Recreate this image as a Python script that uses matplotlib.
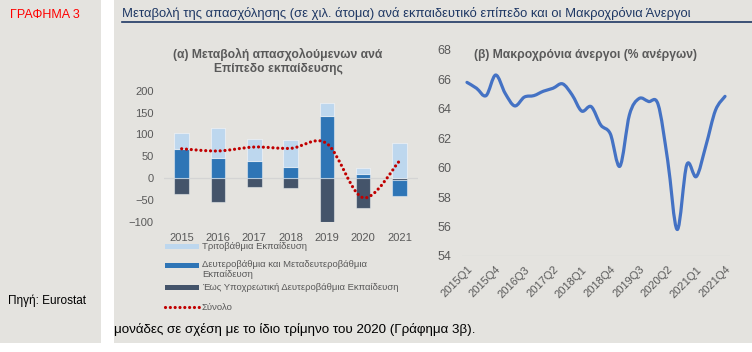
import numpy as np
import matplotlib
matplotlib.use("Agg")
import matplotlib.pyplot as plt
from matplotlib.path import Path
from matplotlib.patches import PathPatch, Rectangle
from matplotlib.lines import Line2D

plt.rcParams['font.family'] = ['Liberation Sans', 'DejaVu Sans']

# ---- DATA ----
years = ['2015', '2016', '2017', '2018', '2019', '2020', '2021']
compulsory = [-36, -55, -20, -22, -100, -69, -4]     # Έως Υποχρεωτική
secondary = [66, 45, 40, 26, 143, 9, -37]            # Δευτεροβάθμια & Μεταδευτεροβάθμια
tertiary = [36, 69, 49, 61, 28, 13, 81]              # Τριτοβάθμια
total = [67, 62, 71, 68, 79, -45, 39]                # Σύνολο

quarters = [f'{y}Q{q}' for y in range(2015, 2022) for q in range(1, 5)]
long_term = [65.8, 65.4, 64.9, 66.3, 65.05, 64.2, 64.8, 64.9, 65.2, 65.4,
             65.7, 64.95, 63.85, 64.15, 62.9, 62.3, 60.1, 63.6, 64.7, 64.5,
             64.3, 60.5, 55.8, 60.2, 59.4, 61.5, 63.9, 64.85]

# ---- STYLE ----
BG = '#e4e3df'
GREY = '#595959'
C_TER = '#bdd7ee'
C_SEC = '#2e75b6'
C_COMP = '#44546a'
C_TOT = '#c00000'
C_LINE = '#4472c4'
W, H = 752, 352


def fx(px):
    return px / W


def fy(py):
    return 1 - py / H


def smooth_path(x, y):
    # bezier through the points (Excel-like smoothed line)
    pts = np.column_stack([x, y]).astype(float)
    n = len(pts)
    verts = [pts[0]]
    codes = [Path.MOVETO]
    for i in range(n - 1):
        p0 = pts[i - 1] if i > 0 else pts[i]
        p1 = pts[i]
        p2 = pts[i + 1]
        p3 = pts[i + 2] if i + 2 < n else pts[i + 1]
        verts += [p1 + (p2 - p0) / 6, p2 - (p3 - p1) / 6, p2]
        codes += [Path.CURVE4] * 3
    return Path(verts, codes)


fig = plt.figure(figsize=(7.52, 3.52), dpi=100, facecolor='white')

# panels
fig.add_artist(Rectangle((0, fy(343)), fx(101), 343 / H, transform=fig.transFigure,
                         facecolor=BG, edgecolor='none', zorder=0))
fig.add_artist(Rectangle((fx(114), fy(343)), 1 - fx(114), 343 / H, transform=fig.transFigure,
                         facecolor=BG, edgecolor='none', zorder=0))

fig.text(fx(10), fy(15), 'ΓΡΑΦΗΜΑ 3', color='#ff0000', fontsize=9, va='center', ha='left')
fig.text(fx(8), fy(301), 'Πηγή: Eurostat', color='black', fontsize=8.5, va='center', ha='left')
fig.text(fx(122), fy(14), 'Μεταβολή της απασχόλησης (σε χιλ. άτομα) ανά εκπαιδευτικό επίπεδο και οι Μακροχρόνια Άνεργοι',
         color='#1f3864', fontsize=9.4, va='center', ha='left')
fig.add_artist(Line2D([fx(122), 1], [fy(22), fy(22)], transform=fig.transFigure,
                      color='#1f3864', lw=1.2))
fig.text(fx(114), fy(329), 'μονάδες σε σχέση με το ίδιο τρίμηνο του 2020 (Γράφημα 3β).',
         color='black', fontsize=9.6, va='center', ha='left')

## (a) bars
ax1 = fig.add_axes([fx(163.5), fy(221.7), (417.6 - 163.5) / W, (221.7 - 90.7) / H])
ax1.set_facecolor('none')
xs = np.arange(len(years))
pos_base = np.zeros(len(years))
neg_base = np.zeros(len(years))
for vals, col in [(compulsory, C_COMP), (secondary, C_SEC), (tertiary, C_TER)]:
    v = np.array(vals, dtype=float)
    bottom = np.where(v >= 0, pos_base, neg_base)
    ax1.bar(xs, v, bottom=bottom, width=0.4, color=col,
            edgecolor=(1, 1, 1, 0.45), linewidth=0.8, zorder=2)
    pos_base = pos_base + np.where(v >= 0, v, 0)
    neg_base = neg_base + np.where(v < 0, v, 0)
ax1.axhline(0, color='#d4d4d4', lw=0.9, zorder=1)
ax1.add_patch(PathPatch(smooth_path(xs, total), fill=False, edgecolor=C_TOT, lw=2.3,
                        linestyle=(0, (0.01, 1.5)), capstyle='round', zorder=3))
ax1.set_xlim(-0.5, 6.5)
ax1.set_ylim(-100, 200)
ax1.set_yticks([-100, -50, 0, 50, 100, 150, 200])
ax1.set_xticks(xs)
ax1.set_xticklabels(years)
ax1.tick_params(length=0, labelsize=8, labelcolor=GREY)
ax1.tick_params(axis='y', pad=7)
ax1.tick_params(axis='x', pad=8)
for s in ax1.spines.values():
    s.set_visible(False)
fig.text(fx(278), fy(61.5), '(α) Μεταβολή απασχολούμενων ανά\nΕπίπεδο εκπαίδευσης',
         ha='center', va='center', fontsize=8.7, fontweight='bold', color=GREY, linespacing=1.25)

# legend
leg = [(246.7, C_TER, 'Τριτοβάθμια Εκπαίδευση'),
       (265.0, C_SEC, 'Δευτεροβάθμια και Μεταδευτεροβάθμια\nΕκπαίδευση'),
       (287.3, C_COMP, 'Έως Υποχρεωτική Δευτεροβάθμια Εκπαίδευση')]
for yy, col, lab in leg:
    fig.add_artist(Rectangle((fx(165), fy(yy + 2.5)), 34 / W, 5 / H, transform=fig.transFigure,
                             facecolor=col, edgecolor='none'))
    if '\n' in lab:
        fig.text(fx(202), fy(yy - 5), lab, fontsize=6.8, color=GREY, ha='left', va='top',
                 linespacing=1.2)
    else:
        fig.text(fx(202), fy(yy), lab, fontsize=6.8, color=GREY, ha='left', va='center')
fig.add_artist(Line2D([fx(165), fx(199)], [fy(307.3), fy(307.3)], transform=fig.transFigure,
                      color=C_TOT, lw=2.3, linestyle=(0, (0.01, 1.5)), dash_capstyle='round'))
fig.text(fx(202), fy(307.3), 'Σύνολο', fontsize=6.8, color=GREY, ha='left', va='center')

## (b) line
ax2 = fig.add_axes([fx(462.2), fy(256), (729.8 - 462.2) / W, 206 / H])
ax2.set_facecolor('none')
qx = np.arange(len(quarters))
ax2.add_patch(PathPatch(smooth_path(qx, long_term), fill=False, edgecolor=C_LINE, lw=2.3,
                        capstyle='round', joinstyle='round', zorder=3))
ax2.axhline(54, color='#d4d4d4', lw=0.9, zorder=1)
ax2.set_xlim(-0.5, 27.5)
ax2.set_ylim(54, 68)
ax2.set_yticks(np.arange(54, 69, 2))
ax2.set_xticks(qx[::3])
ax2.set_xticklabels(quarters[::3], rotation=45, ha='right', va='top', rotation_mode='anchor')
ax2.tick_params(length=0, labelcolor=GREY)
ax2.tick_params(axis='y', labelsize=9, pad=8)
ax2.tick_params(axis='x', labelsize=8, pad=6)
for s in ax2.spines.values():
    s.set_visible(False)
fig.text(fx(586), fy(55), '(β) Μακροχρόνια άνεργοι (% ανέργων)', ha='center', va='center',
         fontsize=8.7, fontweight='bold', color=GREY)

fig.savefig('out.png', dpi=100, facecolor='white')
